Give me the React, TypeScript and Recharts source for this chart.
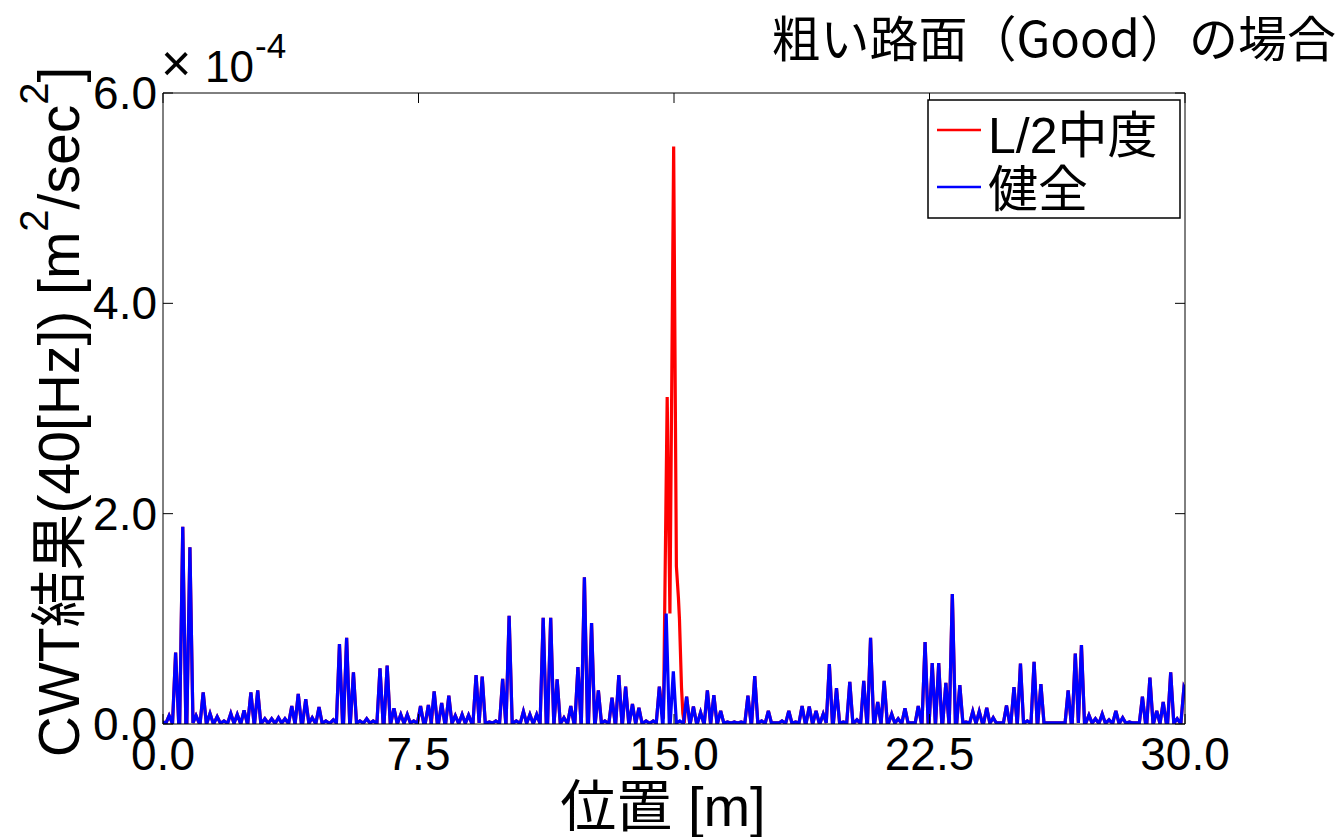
import React from 'react';
import { LineChart, Line, XAxis, YAxis } from 'recharts';

// ---- data (values in units of 1e-4 m^2/sec^2, positions in m) ----
const xTicks = [0, 7.5, 15, 22.5, 30];
const yTicks = [0, 2, 4, 6];
const xDomain: [number, number] = [0, 30];
const yDomain: [number, number] = [0, 6];

// baseline level between spikes and spike half-width
const troughLevel = 0.01;
const spikeHalfWidth = 0.09;
const startValue = 0.02;
const endValue = 0.33;

// healthy bridge (健全): spike positions and peak values
const healthyPeaks: [number, number][] = [
  [0.18, 0.08], [0.37, 0.68], [0.58, 1.875], [0.79, 1.68], [0.97, 0.08],
  [1.18, 0.3], [1.38, 0.1], [1.59, 0.07], [1.79, 0.03], [1.99, 0.1],
  [2.18, 0.09], [2.38, 0.13], [2.58, 0.3], [2.78, 0.32], [2.99, 0.05],
  [3.19, 0.05], [3.39, 0.06], [3.58, 0.05], [3.78, 0.17], [3.97, 0.285],
  [4.19, 0.235], [4.38, 0.06], [4.58, 0.16], [4.78, 0.03], [5.0, 0.04],
  [5.18, 0.76], [5.39, 0.82], [5.59, 0.49], [5.78, 0.03], [5.98, 0.05],
  [6.17, 0.03], [6.37, 0.53], [6.58, 0.555], [6.78, 0.15], [6.98, 0.09],
  [7.17, 0.09], [7.36, 0.03], [7.56, 0.17], [7.79, 0.18], [7.96, 0.31],
  [8.18, 0.2], [8.39, 0.27], [8.58, 0.08], [8.78, 0.09], [8.97, 0.085],
  [9.19, 0.465], [9.37, 0.45], [9.58, 0.02], [9.77, 0.03], [9.97, 0.43],
  [10.16, 1.03], [10.37, 0.03], [10.58, 0.12], [10.77, 0.09], [10.97, 0.09],
  [11.16, 1.01], [11.38, 1.01], [11.57, 0.425], [11.77, 0.06], [11.97, 0.17],
  [12.18, 0.54], [12.37, 1.395], [12.58, 0.96], [12.78, 0.32], [12.97, 0.03],
  [13.18, 0.25], [13.38, 0.465], [13.58, 0.355], [13.78, 0.19], [13.97, 0.155],
  [14.18, 0.03], [14.39, 0.03], [14.57, 0.355], [14.77, 1.05], [14.98, 0.5],
  [15.17, 0.03], [15.37, 0.26], [15.57, 0.165], [15.78, 0.11], [15.98, 0.32],
  [16.17, 0.275], [16.37, 0.125], [16.57, 0.02], [16.77, 0.02], [16.97, 0.02],
  [17.17, 0.27], [17.37, 0.455], [17.57, 0.03], [17.77, 0.125], [17.97, 0.01],
  [18.17, 0.03], [18.37, 0.125], [18.57, 0.02], [18.76, 0.17], [18.97, 0.165],
  [19.17, 0.125], [19.38, 0.095], [19.56, 0.57], [19.77, 0.34], [19.97, 0.02],
  [20.16, 0.4], [20.37, 0.04], [20.57, 0.41], [20.77, 0.82], [20.98, 0.21],
  [21.17, 0.41], [21.39, 0.095], [21.58, 0.05], [21.78, 0.15], [21.97, 0.01],
  [22.17, 0.17], [22.37, 0.78], [22.58, 0.58], [22.77, 0.58], [22.98, 0.39],
  [23.17, 1.235], [23.39, 0.37], [23.57, 0.02], [23.77, 0.12], [23.96, 0.12],
  [24.18, 0.155], [24.37, 0.06], [24.57, 0.01], [24.76, 0.175], [24.98, 0.35],
  [25.17, 0.575], [25.37, 0.03], [25.57, 0.59], [25.77, 0.38], [25.97, 0.01],
  [26.17, 0.01], [26.37, 0.01], [26.57, 0.32], [26.78, 0.67], [26.96, 0.75],
  [27.18, 0.085], [27.37, 0.05], [27.57, 0.095], [27.77, 0.04], [27.97, 0.125],
  [28.17, 0.06], [28.37, 0.02], [28.57, 0.01], [28.75, 0.26], [28.97, 0.44],
  [29.17, 0.125], [29.36, 0.21], [29.58, 0.49], [29.77, 0.05], [29.97, 0.35],
];

// damaged bridge (L/2中度): differs from healthy only around mid-span
const damagedRange: [number, number] = [14.66, 15.31];
const damagedSpike: [number, number][] = [
  [14.69, 0.05], [14.8, 3.11], [14.88, 1.05], [14.99, 5.49], [15.07, 1.5],
  [15.13, 1.2], [15.16, 1.0], [15.22, 0.35], [15.26, 0.1], [15.3, 0.01],
];

type Pt = { x: number; v: number };

function buildHealthy(): Pt[] {
  const out: Pt[] = [{ x: 0, v: startValue }];
  healthyPeaks.forEach(([x, v]) => {
    out.push({ x: x - spikeHalfWidth, v: troughLevel });
    out.push({ x, v });
    if (x + spikeHalfWidth < 30) out.push({ x: x + spikeHalfWidth, v: troughLevel });
  });
  out.push({ x: 30, v: endValue });
  return out;
}

const healthyData = buildHealthy();
const damagedData: Pt[] = healthyData
  .filter((p) => p.x < damagedRange[0] || p.x > damagedRange[1])
  .concat(damagedSpike.map(([x, v]) => ({ x, v })))
  .sort((a, b) => a.x - b.x);

const tickFont = '"Liberation Sans", Arial, sans-serif';
const mixFont = '"Liberation Sans", Arial, "Noto Sans CJK JP", sans-serif';
const cjkFont = '"Noto Sans CJK JP", sans-serif';
const fmt = (v: number) => v.toFixed(1);
const TICK_LEN = 10;

const BottomTick = (p: any) => (
  <g>
    <line x1={p.x} y1={p.y} x2={p.x} y2={p.y - TICK_LEN} stroke="#000" strokeWidth={1} />
    <text x={p.x} y={p.y + 46} textAnchor="middle" fontSize={46} fontFamily={tickFont} fill="#000">
      {fmt(p.payload.value)}
    </text>
  </g>
);
const TopTick = (p: any) => (
  <line x1={p.x} y1={p.y} x2={p.x} y2={p.y + TICK_LEN} stroke="#000" strokeWidth={1} />
);
const LeftTick = (p: any) => (
  <g>
    <line x1={p.x} y1={p.y} x2={p.x + TICK_LEN} y2={p.y} stroke="#000" strokeWidth={1} />
    <text x={p.x - 6} y={p.y + 16} textAnchor="end" fontSize={46} fontFamily={tickFont} fill="#000">
      {fmt(p.payload.value)}
    </text>
  </g>
);
const RightTick = (p: any) => (
  <line x1={p.x} y1={p.y} x2={p.x - TICK_LEN} y2={p.y} stroke="#000" strokeWidth={1} />
);

export default function App() {
  return (
    <div style={{ position: 'absolute', left: 0, top: 0, width: 1341, height: 837, background: '#fff' }}>
      <LineChart
        width={1341}
        height={837}
        margin={{ top: 83, right: 146, bottom: 53, left: 103 }}
      >
        <XAxis
          xAxisId="b"
          dataKey="x"
          type="number"
          domain={xDomain}
          ticks={xTicks}
          interval={0}
          height={60}
          tickSize={0}
          tickMargin={0}
          tickLine={false}
          axisLine={{ stroke: '#000', strokeWidth: 1 }}
          tick={<BottomTick />}
          allowDataOverflow
        />
        <XAxis
          xAxisId="t"
          orientation="top"
          dataKey="x"
          type="number"
          domain={xDomain}
          ticks={xTicks}
          interval={0}
          height={10}
          tickSize={0}
          tickMargin={0}
          tickLine={false}
          axisLine={{ stroke: '#000', strokeWidth: 1 }}
          tick={<TopTick />}
          allowDataOverflow
        />
        <YAxis
          yAxisId="l"
          type="number"
          domain={yDomain}
          ticks={yTicks}
          interval={0}
          width={60}
          tickSize={0}
          tickMargin={0}
          tickLine={false}
          axisLine={{ stroke: '#000', strokeWidth: 1 }}
          tick={<LeftTick />}
          allowDataOverflow
        />
        <YAxis
          yAxisId="r"
          orientation="right"
          type="number"
          domain={yDomain}
          ticks={yTicks}
          interval={0}
          width={10}
          tickSize={0}
          tickMargin={0}
          tickLine={false}
          axisLine={{ stroke: '#000', strokeWidth: 1 }}
          tick={<RightTick />}
          allowDataOverflow
        />
        <Line
          xAxisId="b"
          yAxisId="l"
          data={damagedData}
          dataKey="v"
          type="linear"
          stroke="#ff0000"
          strokeWidth={3.2}
          dot={false}
          isAnimationActive={false}
          name="L/2中度"
        />
        <Line
          xAxisId="b"
          yAxisId="l"
          data={healthyData}
          dataKey="v"
          type="linear"
          stroke="#0000ff"
          strokeWidth={3.2}
          dot={false}
          isAnimationActive={false}
          name="健全"
        />
      </LineChart>
      <svg
        width={1341}
        height={837}
        style={{ position: 'absolute', left: 0, top: 0, pointerEvents: 'none' }}
      >
        <text x={1336} y={57} textAnchor="end" fontSize={49} fontFamily={cjkFont} fill="#000">
          粗い路面（Good）の場合
        </text>
        <text x={161} y={81} fontSize={52} fontFamily={tickFont} fill="#000">×</text>
        <text x={205} y={82} fontSize={44} fontFamily={tickFont} fill="#000">10</text>
        <text x={255} y={58} fontSize={35} fontFamily={tickFont} fill="#000">-4</text>
        <text
          transform="translate(79,412) rotate(-90)"
          textAnchor="middle"
          fontSize={57}
          fontFamily={mixFont}
          fill="#000"
        >
          CWT結果(40[Hz]) [m<tspan dy={-31} fontSize={40}>2</tspan>
          <tspan dy={31}>/sec</tspan>
          <tspan dy={-31} fontSize={40}>2</tspan>
          <tspan dy={31}>]</tspan>
        </text>
        <text x={663} y={826} textAnchor="middle" fontSize={56} fontFamily={mixFont} fill="#000">
          位置 [m]
        </text>
        <rect x={928} y={100} width={252} height={118} fill="#fff" stroke="#000" strokeWidth={1.5} />
        <line x1={937} y1={130} x2={981} y2={130} stroke="#ff0000" strokeWidth={2.5} />
        <text x={988} y={153} fontSize={50} fontFamily={mixFont} fill="#000">L/2中度</text>
        <line x1={937} y1={187} x2={981} y2={187} stroke="#0000ff" strokeWidth={2.5} />
        <text x={988} y={207} fontSize={50} fontFamily={mixFont} fill="#000">健全</text>
      </svg>
    </div>
  );
}
